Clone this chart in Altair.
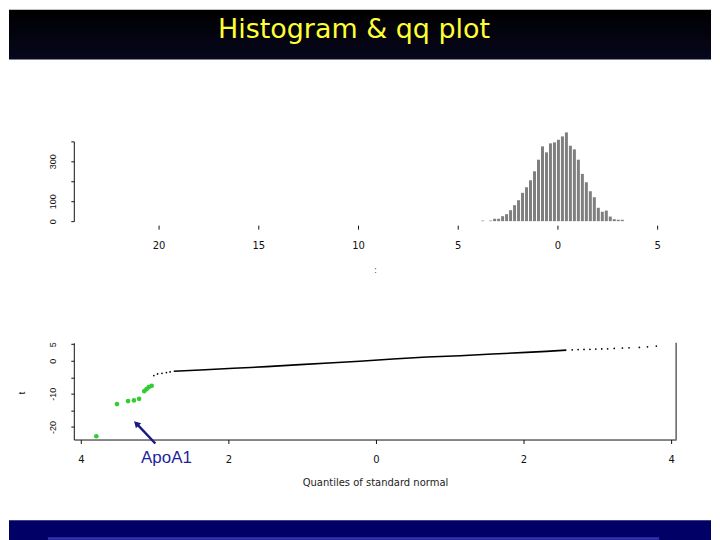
import altair as alt
import pandas as pd

# ---------------- data ----------------
title_text = ["Histogram & qq plot"]

# histogram of t statistics (bin centres, counts)
hist_center = [-3.75, -3.55, -3.35, -3.15, -2.95, -2.75, -2.55, -2.35, -2.15, -1.95,
               -1.75, -1.55, -1.35, -1.15, -0.95, -0.75, -0.55, -0.35, -0.15, 0.05,
               0.25, 0.45, 0.65, 0.85, 1.05, 1.25, 1.45, 1.65, 1.85, 2.05,
               2.25, 2.45, 2.65, 2.85, 3.05, 3.25]
hist_count = [3, 0, 3, 12, 12, 25, 35, 55, 80, 105,
              142, 170, 205, 250, 308, 375, 345, 390, 395, 408,
              425, 445, 378, 360, 308, 237, 195, 150, 120, 67,
              47, 53, 23, 10, 7, 7]
hist_x_ticks = [-20, -15, -10, -5, 0, 5]
hist_y_ticks = [0, 100, 200, 300, 400]

# qq plot: main body of the sorted t values (theoretical quantile, t)
qq_line_x = [-2.74, -2.38, -1.93, -1.48, -1.03, -0.58, -0.22, 0.23, 0.69, 1.14, 1.58, 2.04, 2.31, 2.58]
qq_line_y = [-3.2, -2.8, -2.3, -1.8, -1.2, -0.6, -0.15, 0.5, 1.1, 1.5, 2.0, 2.5, 2.8, 3.2]
# sparse tails
qq_tail_x = [-3.01, -2.96, -2.90, -2.84, -2.79, 2.66, 2.74, 2.82, 2.90, 2.98, 3.06, 3.14, 3.23, 3.34, 3.43, 3.57, 3.68, 3.80]
qq_tail_y = [-4.5, -4.0, -3.8, -3.6, -3.4, 3.3, 3.35, 3.4, 3.45, 3.5, 3.55, 3.6, 3.7, 3.8, 3.9, 4.0, 4.2, 4.4]
# highlighted outliers (green)
out_x = [-3.79, -3.51, -3.36, -3.28, -3.21, -3.14, -3.11, -3.08, -3.04]
out_y = [-22.8, -13.1, -12.2, -12.0, -11.5, -9.2, -8.6, -8.0, -7.6]
qq_x_ticks = [-4, -2, 0, 2, 4]
qq_y_ticks = [-20, -15, -10, -5, 0, 5]

# annotation
note_label = ["ApoA1"]
note_pos = [-2.84, -30.8]
arrow_tail = [-2.99, -25.0]
arrow_head = [-3.248, -18.95]

# ---------------- layout constants (pixels) ----------------
HIST_W, HIST_H = 607, 80
QQ_W, QQ_H = 604, 97
LEFT = 65          # plot left edge from canvas left
HIST_TOP = 132     # hist plot top from canvas top
QQ_TOP = 334
CANVAS_W = 704

hist_df = pd.DataFrame({"t": hist_center, "count": hist_count})
line_df = pd.DataFrame({"q": qq_line_x, "t": qq_line_y})
tail_df = pd.DataFrame({"q": qq_tail_x, "t": qq_tail_y})
out_df = pd.DataFrame({"q": out_x, "t": out_y})
note_df = pd.DataFrame({"q": [note_pos[0]], "t": [note_pos[1]], "label": note_label})
arrow_df = pd.DataFrame({"q": [arrow_tail[0]], "t": [arrow_tail[1]],
                         "q2": [arrow_head[0]], "t2": [arrow_head[1]]})
one = pd.DataFrame({"label": title_text})

AXC = "#111111"

# ---------------- histogram panel ----------------
hx = alt.X("t:Q",
           scale=alt.Scale(domain=[-24.25, 6.1], nice=False, zero=False, padding=0),
           axis=alt.Axis(values=hist_x_ticks, tickCount=20, labelExpr="'' + abs(datum.value)",
                         domain=False, ticks=True, tickSize=4, tickColor=AXC, offset=4,
                         grid=False, labelFont="DejaVu Sans", labelFontSize=10, labelColor=AXC,
                         labelPadding=11, labelOverlap=False, labelFlush=False,
                         title=":", titleX=302, titleY=44, titleFont="DejaVu Sans",
                         titleFontSize=9, titleFontWeight="normal", titleColor="#555555",
                         titleBaseline="middle", titleAlign="center"))
hy = alt.Y("count:Q",
           scale=alt.Scale(domain=[0, 400], nice=False, zero=True, padding=0),
           axis=alt.Axis(values=hist_y_ticks, tickCount=20,
                         labelExpr="(datum.value == 200 || datum.value == 400) ? '' : datum.label",
                         domain=True, domainColor=AXC, tickSize=3, tickColor=AXC, grid=False,
                         labelAngle=270, labelAlign="center", labelBaseline="bottom",
                         labelFont="Liberation Sans", labelFontSize=9, labelColor=AXC,
                         labelPadding=13, labelOverlap=False, labelFlush=False, labelBound=False,
                         title=None))

bars = alt.Chart(hist_df).mark_bar(size=3, color="#7f7f7f").encode(x=hx, y=hy)

header = alt.Chart(one).mark_rect(
    fill=alt.LinearGradient(gradient="linear",
                            stops=[alt.GradientStop(color="#000000", offset=0),
                                   alt.GradientStop(color="#07071e", offset=1)],
                            x1=0, x2=0, y1=0, y2=1)
).encode(x=alt.value(-LEFT), x2=alt.value(CANVAS_W - LEFT),
         y=alt.value(-HIST_TOP), y2=alt.value(-HIST_TOP + 50))

title = alt.Chart(one).mark_text(font="DejaVu Sans", fontSize=27, color="#ffff33",
                                 align="center", baseline="alphabetic").encode(
    x=alt.value(281), y=alt.value(-104), text="label:N")

hist = alt.layer(header, title, bars).properties(width=HIST_W, height=HIST_H)

# ---------------- qq panel ----------------
qx_scale = alt.Scale(domain=[-4.095, 4.068], nice=False, zero=False, padding=0)
qy_scale = alt.Scale(domain=[-23.8, 5.4], nice=False, zero=False, padding=0)
qx = alt.X("q:Q", scale=qx_scale,
           axis=alt.Axis(values=qq_x_ticks, tickCount=20, labelExpr="'' + abs(datum.value)",
                         domain=True, domainColor=AXC, tickSize=4, tickColor=AXC, grid=False,
                         labelFont="DejaVu Sans", labelFontSize=10, labelColor=AXC,
                         labelPadding=11, labelOverlap=False, labelFlush=False,
                         title="Quantiles of standard normal", titleX=302, titleY=43,
                         titleFont="DejaVu Sans", titleFontSize=10, titleFontWeight="normal",
                         titleColor="#222222", titleBaseline="middle", titleAlign="center"))
qy = alt.Y("t:Q", scale=qy_scale,
           axis=alt.Axis(values=qq_y_ticks, tickCount=20,
                         labelExpr="(datum.value == -20 || datum.value == -10 || datum.value == 0 || datum.value == 5) ? ('' + datum.value) : ''",
                         domain=True, domainColor=AXC, tickSize=3, tickColor=AXC, grid=False,
                         labelAngle=270, labelAlign="center", labelBaseline="bottom",
                         labelFont="Liberation Sans", labelFontSize=9, labelColor=AXC,
                         labelPadding=13, labelOverlap=False, labelFlush=False, labelBound=False,
                         title="t", titleX=-52, titleY=50, titleAngle=270,
                         titleFont="Liberation Sans", titleFontSize=10, titleFontWeight="normal",
                         titleColor=AXC, titleBaseline="middle", titleAlign="center"))

qq_line = alt.Chart(line_df).mark_line(color="black", strokeWidth=1.6).encode(x=qx, y=qy)
qq_tail = alt.Chart(tail_df).mark_point(filled=True, color="black", size=3, opacity=1).encode(x="q:Q", y="t:Q")
qq_out = alt.Chart(out_df).mark_point(filled=True, color="#33cc33", size=22, opacity=1,
                                      shape="circle").encode(x="q:Q", y="t:Q")
arrow = alt.Chart(arrow_df).mark_rule(color="#1a1a80", strokeWidth=2.5).encode(
    x="q:Q", y="t:Q", x2="q2:Q", y2="t2:Q")
arrow_tip = alt.Chart(arrow_df).mark_point(filled=True, color="#1a1a80", shape="triangle-up",
                                           size=55, angle=316, opacity=1).encode(x="q2:Q", y="t2:Q")
note = alt.Chart(note_df).mark_text(font="Liberation Sans", fontSize=17, color="#1f1f9e",
                                    align="center", baseline="alphabetic").encode(
    x="q:Q", y="t:Q", text="label:N")
right_frame = alt.Chart(one).mark_rule(color=AXC, strokeWidth=1).encode(
    x=alt.value(QQ_W), y=alt.value(0), y2=alt.value(QQ_H))

footer = alt.Chart(one).mark_rect(fill="#000066").encode(
    x=alt.value(-LEFT), x2=alt.value(CANVAS_W - LEFT),
    y=alt.value(520 - 8 - QQ_TOP), y2=alt.value(540 - 8 - QQ_TOP))
footer_line = alt.Chart(one).mark_rect(fill="#3333b0").encode(
    x=alt.value(47 - 8 - LEFT), x2=alt.value(660 - 8 - LEFT),
    y=alt.value(537 - 8 - QQ_TOP), y2=alt.value(539.5 - 8 - QQ_TOP))

qq = alt.layer(qq_line, qq_tail, qq_out, arrow, arrow_tip, note, right_frame,
               footer, footer_line).properties(width=QQ_W, height=QQ_H)

chart = alt.vconcat(hist, qq, spacing=QQ_TOP - HIST_TOP - HIST_H, bounds="flush").properties(
    padding=0, background="white"
).configure_view(stroke="transparent")

chart.save("out.html", embed_options={"renderer": "svg", "actions": False})
